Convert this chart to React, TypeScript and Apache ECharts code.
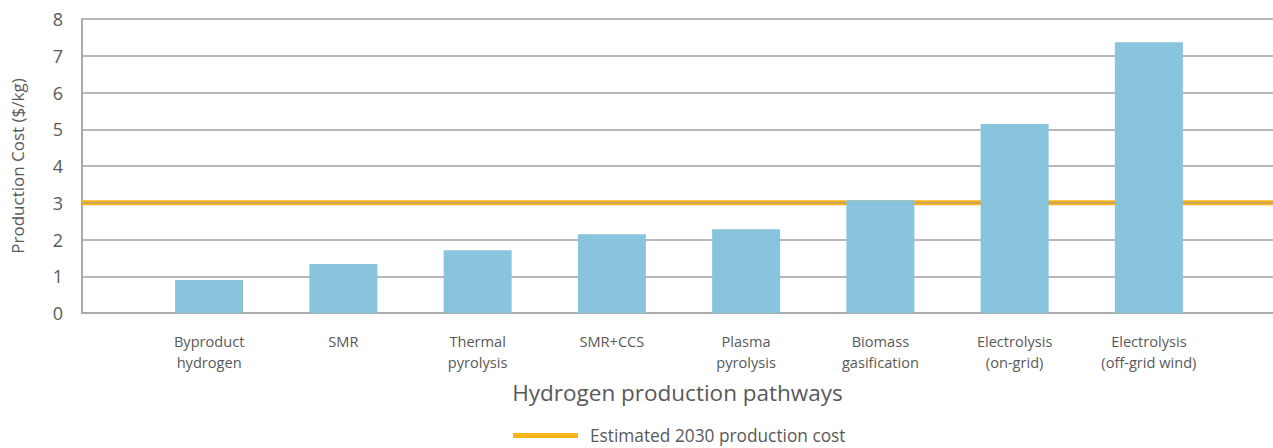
import React, { useEffect, useRef } from "react";
import * as echarts from "echarts";

const categories = [
  "Byproduct\nhydrogen",
  "SMR",
  "Thermal\npyrolysis",
  "SMR+CCS",
  "Plasma\npyrolysis",
  "Biomass\ngasification",
  "Electrolysis\n(on-grid)",
  "Electrolysis\n(off-grid wind)",
];
const costValues = [0.9, 1.33, 1.71, 2.14, 2.28, 3.07, 5.14, 7.37];
const target2030 = 3;
const yTicks = [0, 1, 2, 3, 4, 5, 6, 7, 8];

const FONT = "'Open Sans', 'Noto Sans', sans-serif";
const TEXT = "#595959";

export default function App() {
  const ref = useRef<HTMLDivElement>(null);
  useEffect(() => {
    if (!ref.current) return;
    const chart = echarts.init(ref.current, undefined, { renderer: "svg" });
    const yMax = yTicks[yTicks.length - 1];
    chart.setOption({
      animation: false,
      textStyle: { fontFamily: FONT },
      grid: [
        { left: 82, right: 0, top: 19, bottom: 135 },
        { left: 142, right: 57, top: 19, bottom: 135 },
      ],
      legend: {
        data: ["Estimated 2030 production cost"],
        bottom: -1,
        left: 508,
        icon: "rect",
        itemWidth: 65,
        itemHeight: 5,
        itemGap: 12,
        textStyle: { color: TEXT, fontSize: 17.3, fontFamily: FONT, padding: [0, 0, 0, 7] },
      },
      xAxis: [
        {
          type: "category",
          gridIndex: 0,
          data: ["a", "b"],
          boundaryGap: false,
          axisLine: { show: true, lineStyle: { color: "#ababab", width: 2 } },
          axisTick: { show: false },
          axisLabel: { show: false },
          splitLine: { show: false },
          name: "Hydrogen production pathways",
          nameLocation: "middle",
          nameGap: 68,
          nameTextStyle: { color: TEXT, fontSize: 22.5, fontFamily: FONT },
        },
        {
          type: "category",
          gridIndex: 1,
          data: categories,
          axisLine: { show: false },
          axisTick: { show: false },
          axisLabel: {
            color: TEXT,
            fontSize: 14.6,
            lineHeight: 21,
            margin: 17,
            interval: 0,
            fontFamily: FONT,
            verticalAlign: "top",
          },
        },
      ],
      yAxis: [
        {
          type: "value",
          gridIndex: 0,
          min: 0,
          max: yMax,
          interval: 1,
          axisLine: { show: true, lineStyle: { color: "#ababab", width: 2 } },
          axisTick: { show: false },
          axisLabel: { color: TEXT, fontSize: 18, margin: 19, fontFamily: FONT },
          splitLine: { show: true, lineStyle: { color: "#a0a0a0", width: 1.5 } },
          name: "Production Cost ($/kg)",
          nameLocation: "middle",
          nameGap: 56,
          nameTextStyle: { color: TEXT, fontSize: 17, fontFamily: FONT },
        },
        {
          type: "value",
          gridIndex: 1,
          min: 0,
          max: yMax,
          interval: 1,
          show: false,
          splitLine: { show: false },
        },
      ],
      series: [
        {
          name: "Estimated 2030 production cost",
          type: "line",
          xAxisIndex: 0,
          yAxisIndex: 0,
          data: [target2030, target2030],
          symbol: "none",
          lineStyle: { color: "#fbb516", width: 5 },
          itemStyle: { color: "#fbb516" },
          z: 3,
        },
        {
          name: "gridOverlay",
          type: "line",
          xAxisIndex: 0,
          yAxisIndex: 0,
          data: [target2030, target2030],
          symbol: "none",
          lineStyle: { color: "#9a9a9a", width: 1.2 },
          z: 4,
        },
        {
          name: "Production cost",
          type: "bar",
          xAxisIndex: 1,
          yAxisIndex: 1,
          data: costValues,
          barWidth: 68,
          itemStyle: { color: "#89c4de" },
          z: 5,
        },
      ],
    });
    return () => chart.dispose();
  }, []);
  return (
    <div
      ref={ref}
      style={{ position: "absolute", left: 0, top: 0, width: 1273, height: 448, background: "#fff" }}
    />
  );
}
